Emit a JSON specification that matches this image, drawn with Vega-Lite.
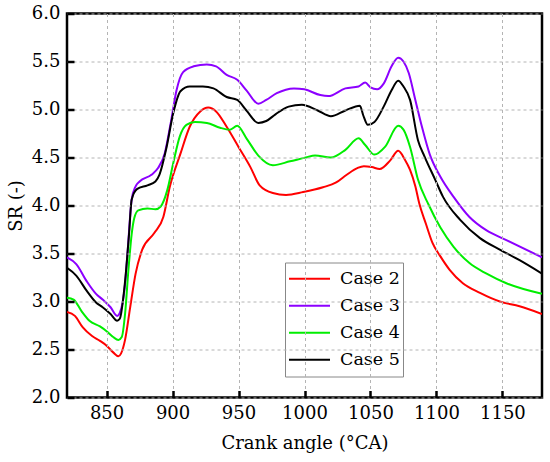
{
  "$schema": "https://vega.github.io/schema/vega-lite/v6.json",
  "width": 475,
  "height": 384,
  "autosize": {"type": "none"},
  "padding": {"left": 67, "top": 13.5, "right": 8, "bottom": 64.5},
  "background": "white",
  "datasets": {
    "sr": [
      {"case": "Case 2", "angle": 820, "sr": 2.89},
      {"case": "Case 2", "angle": 826, "sr": 2.85},
      {"case": "Case 2", "angle": 832, "sr": 2.73},
      {"case": "Case 2", "angle": 839, "sr": 2.64},
      {"case": "Case 2", "angle": 845, "sr": 2.59},
      {"case": "Case 2", "angle": 850, "sr": 2.54},
      {"case": "Case 2", "angle": 855, "sr": 2.47},
      {"case": "Case 2", "angle": 859, "sr": 2.43},
      {"case": "Case 2", "angle": 861, "sr": 2.46},
      {"case": "Case 2", "angle": 864, "sr": 2.6},
      {"case": "Case 2", "angle": 868, "sr": 2.95},
      {"case": "Case 2", "angle": 872, "sr": 3.29},
      {"case": "Case 2", "angle": 877, "sr": 3.54},
      {"case": "Case 2", "angle": 886, "sr": 3.71},
      {"case": "Case 2", "angle": 893, "sr": 3.88},
      {"case": "Case 2", "angle": 898, "sr": 4.2},
      {"case": "Case 2", "angle": 906, "sr": 4.54},
      {"case": "Case 2", "angle": 913, "sr": 4.82},
      {"case": "Case 2", "angle": 921, "sr": 4.98},
      {"case": "Case 2", "angle": 927, "sr": 5.02},
      {"case": "Case 2", "angle": 933, "sr": 4.98},
      {"case": "Case 2", "angle": 941, "sr": 4.82},
      {"case": "Case 2", "angle": 950, "sr": 4.61},
      {"case": "Case 2", "angle": 959, "sr": 4.4},
      {"case": "Case 2", "angle": 966, "sr": 4.21},
      {"case": "Case 2", "angle": 976, "sr": 4.13},
      {"case": "Case 2", "angle": 986, "sr": 4.11},
      {"case": "Case 2", "angle": 999, "sr": 4.14},
      {"case": "Case 2", "angle": 1014, "sr": 4.19},
      {"case": "Case 2", "angle": 1024, "sr": 4.24},
      {"case": "Case 2", "angle": 1032, "sr": 4.32},
      {"case": "Case 2", "angle": 1040, "sr": 4.39},
      {"case": "Case 2", "angle": 1045, "sr": 4.41},
      {"case": "Case 2", "angle": 1051, "sr": 4.4},
      {"case": "Case 2", "angle": 1057, "sr": 4.38},
      {"case": "Case 2", "angle": 1065, "sr": 4.47},
      {"case": "Case 2", "angle": 1071, "sr": 4.57},
      {"case": "Case 2", "angle": 1076, "sr": 4.48},
      {"case": "Case 2", "angle": 1080, "sr": 4.37},
      {"case": "Case 2", "angle": 1084, "sr": 4.2},
      {"case": "Case 2", "angle": 1087, "sr": 4.02},
      {"case": "Case 2", "angle": 1092, "sr": 3.81},
      {"case": "Case 2", "angle": 1097, "sr": 3.61},
      {"case": "Case 2", "angle": 1103, "sr": 3.47},
      {"case": "Case 2", "angle": 1110, "sr": 3.33},
      {"case": "Case 2", "angle": 1120, "sr": 3.19},
      {"case": "Case 2", "angle": 1133, "sr": 3.09},
      {"case": "Case 2", "angle": 1148, "sr": 3.0},
      {"case": "Case 2", "angle": 1163, "sr": 2.95},
      {"case": "Case 2", "angle": 1180, "sr": 2.87},

      {"case": "Case 3", "angle": 820, "sr": 3.46},
      {"case": "Case 3", "angle": 827, "sr": 3.39},
      {"case": "Case 3", "angle": 835, "sr": 3.21},
      {"case": "Case 3", "angle": 842, "sr": 3.08},
      {"case": "Case 3", "angle": 847, "sr": 3.02},
      {"case": "Case 3", "angle": 853, "sr": 2.94},
      {"case": "Case 3", "angle": 858, "sr": 2.85},
      {"case": "Case 3", "angle": 860, "sr": 2.88},
      {"case": "Case 3", "angle": 864, "sr": 3.18},
      {"case": "Case 3", "angle": 866, "sr": 3.53},
      {"case": "Case 3", "angle": 869, "sr": 4.06},
      {"case": "Case 3", "angle": 872, "sr": 4.2},
      {"case": "Case 3", "angle": 875, "sr": 4.25},
      {"case": "Case 3", "angle": 884, "sr": 4.32},
      {"case": "Case 3", "angle": 889, "sr": 4.39},
      {"case": "Case 3", "angle": 894, "sr": 4.54},
      {"case": "Case 3", "angle": 899, "sr": 4.89},
      {"case": "Case 3", "angle": 903, "sr": 5.2},
      {"case": "Case 3", "angle": 908, "sr": 5.39},
      {"case": "Case 3", "angle": 916, "sr": 5.45},
      {"case": "Case 3", "angle": 926, "sr": 5.47},
      {"case": "Case 3", "angle": 933, "sr": 5.45},
      {"case": "Case 3", "angle": 941, "sr": 5.36},
      {"case": "Case 3", "angle": 949, "sr": 5.31},
      {"case": "Case 3", "angle": 956, "sr": 5.2},
      {"case": "Case 3", "angle": 965, "sr": 5.06},
      {"case": "Case 3", "angle": 971, "sr": 5.1},
      {"case": "Case 3", "angle": 979, "sr": 5.17},
      {"case": "Case 3", "angle": 992, "sr": 5.22},
      {"case": "Case 3", "angle": 1000, "sr": 5.21},
      {"case": "Case 3", "angle": 1012, "sr": 5.15},
      {"case": "Case 3", "angle": 1018, "sr": 5.14},
      {"case": "Case 3", "angle": 1031, "sr": 5.22},
      {"case": "Case 3", "angle": 1041, "sr": 5.24},
      {"case": "Case 3", "angle": 1046, "sr": 5.28},
      {"case": "Case 3", "angle": 1050, "sr": 5.23},
      {"case": "Case 3", "angle": 1055, "sr": 5.21},
      {"case": "Case 3", "angle": 1060, "sr": 5.27},
      {"case": "Case 3", "angle": 1066, "sr": 5.45},
      {"case": "Case 3", "angle": 1071, "sr": 5.54},
      {"case": "Case 3", "angle": 1075, "sr": 5.5},
      {"case": "Case 3", "angle": 1079, "sr": 5.38},
      {"case": "Case 3", "angle": 1084, "sr": 5.1},
      {"case": "Case 3", "angle": 1089, "sr": 4.82},
      {"case": "Case 3", "angle": 1095, "sr": 4.53},
      {"case": "Case 3", "angle": 1103, "sr": 4.3},
      {"case": "Case 3", "angle": 1113, "sr": 4.09},
      {"case": "Case 3", "angle": 1125, "sr": 3.88},
      {"case": "Case 3", "angle": 1138, "sr": 3.74},
      {"case": "Case 3", "angle": 1153, "sr": 3.64},
      {"case": "Case 3", "angle": 1180, "sr": 3.46},

      {"case": "Case 4", "angle": 820, "sr": 3.04},
      {"case": "Case 4", "angle": 825, "sr": 3.02},
      {"case": "Case 4", "angle": 831, "sr": 2.9},
      {"case": "Case 4", "angle": 837, "sr": 2.8},
      {"case": "Case 4", "angle": 845, "sr": 2.74},
      {"case": "Case 4", "angle": 850, "sr": 2.69},
      {"case": "Case 4", "angle": 855, "sr": 2.63},
      {"case": "Case 4", "angle": 859, "sr": 2.6},
      {"case": "Case 4", "angle": 861.5, "sr": 2.63},
      {"case": "Case 4", "angle": 864, "sr": 2.87},
      {"case": "Case 4", "angle": 866.5, "sr": 3.32},
      {"case": "Case 4", "angle": 869, "sr": 3.7},
      {"case": "Case 4", "angle": 871, "sr": 3.87},
      {"case": "Case 4", "angle": 874, "sr": 3.95},
      {"case": "Case 4", "angle": 881, "sr": 3.97},
      {"case": "Case 4", "angle": 887, "sr": 3.96},
      {"case": "Case 4", "angle": 891, "sr": 3.99},
      {"case": "Case 4", "angle": 896, "sr": 4.16},
      {"case": "Case 4", "angle": 900.5, "sr": 4.44},
      {"case": "Case 4", "angle": 905.5, "sr": 4.72},
      {"case": "Case 4", "angle": 910.5, "sr": 4.84},
      {"case": "Case 4", "angle": 917, "sr": 4.87},
      {"case": "Case 4", "angle": 926, "sr": 4.86},
      {"case": "Case 4", "angle": 936, "sr": 4.81},
      {"case": "Case 4", "angle": 943.5, "sr": 4.79},
      {"case": "Case 4", "angle": 949, "sr": 4.83},
      {"case": "Case 4", "angle": 956, "sr": 4.7},
      {"case": "Case 4", "angle": 965, "sr": 4.52},
      {"case": "Case 4", "angle": 976, "sr": 4.42},
      {"case": "Case 4", "angle": 989, "sr": 4.46},
      {"case": "Case 4", "angle": 1001, "sr": 4.5},
      {"case": "Case 4", "angle": 1008, "sr": 4.52},
      {"case": "Case 4", "angle": 1020, "sr": 4.5},
      {"case": "Case 4", "angle": 1031, "sr": 4.58},
      {"case": "Case 4", "angle": 1041, "sr": 4.7},
      {"case": "Case 4", "angle": 1046, "sr": 4.63},
      {"case": "Case 4", "angle": 1053, "sr": 4.53},
      {"case": "Case 4", "angle": 1061, "sr": 4.61},
      {"case": "Case 4", "angle": 1071, "sr": 4.83},
      {"case": "Case 4", "angle": 1075, "sr": 4.79},
      {"case": "Case 4", "angle": 1080, "sr": 4.61},
      {"case": "Case 4", "angle": 1086, "sr": 4.27},
      {"case": "Case 4", "angle": 1094, "sr": 4.01},
      {"case": "Case 4", "angle": 1103, "sr": 3.77},
      {"case": "Case 4", "angle": 1113, "sr": 3.57},
      {"case": "Case 4", "angle": 1125, "sr": 3.4},
      {"case": "Case 4", "angle": 1138, "sr": 3.29},
      {"case": "Case 4", "angle": 1153, "sr": 3.19},
      {"case": "Case 4", "angle": 1180, "sr": 3.08},

      {"case": "Case 5", "angle": 820, "sr": 3.35},
      {"case": "Case 5", "angle": 827, "sr": 3.27},
      {"case": "Case 5", "angle": 835, "sr": 3.11},
      {"case": "Case 5", "angle": 842, "sr": 2.99},
      {"case": "Case 5", "angle": 847, "sr": 2.94},
      {"case": "Case 5", "angle": 853, "sr": 2.87},
      {"case": "Case 5", "angle": 858, "sr": 2.8},
      {"case": "Case 5", "angle": 860, "sr": 2.82},
      {"case": "Case 5", "angle": 864, "sr": 3.21},
      {"case": "Case 5", "angle": 867, "sr": 3.7},
      {"case": "Case 5", "angle": 869, "sr": 4.06},
      {"case": "Case 5", "angle": 873, "sr": 4.17},
      {"case": "Case 5", "angle": 881, "sr": 4.21},
      {"case": "Case 5", "angle": 887, "sr": 4.25},
      {"case": "Case 5", "angle": 890, "sr": 4.32},
      {"case": "Case 5", "angle": 895.5, "sr": 4.61},
      {"case": "Case 5", "angle": 900.5, "sr": 4.96},
      {"case": "Case 5", "angle": 906, "sr": 5.19},
      {"case": "Case 5", "angle": 913, "sr": 5.24},
      {"case": "Case 5", "angle": 923, "sr": 5.24},
      {"case": "Case 5", "angle": 931, "sr": 5.22},
      {"case": "Case 5", "angle": 941, "sr": 5.13},
      {"case": "Case 5", "angle": 949, "sr": 5.1},
      {"case": "Case 5", "angle": 956, "sr": 4.99},
      {"case": "Case 5", "angle": 965, "sr": 4.86},
      {"case": "Case 5", "angle": 971, "sr": 4.88},
      {"case": "Case 5", "angle": 978, "sr": 4.95},
      {"case": "Case 5", "angle": 988, "sr": 5.03},
      {"case": "Case 5", "angle": 998, "sr": 5.05},
      {"case": "Case 5", "angle": 1010, "sr": 4.99},
      {"case": "Case 5", "angle": 1020, "sr": 4.93},
      {"case": "Case 5", "angle": 1031, "sr": 4.99},
      {"case": "Case 5", "angle": 1042, "sr": 5.04},
      {"case": "Case 5", "angle": 1044.5, "sr": 4.94},
      {"case": "Case 5", "angle": 1048, "sr": 4.84},
      {"case": "Case 5", "angle": 1053, "sr": 4.87},
      {"case": "Case 5", "angle": 1060, "sr": 5.03},
      {"case": "Case 5", "angle": 1066, "sr": 5.2},
      {"case": "Case 5", "angle": 1071, "sr": 5.3},
      {"case": "Case 5", "angle": 1075, "sr": 5.24},
      {"case": "Case 5", "angle": 1080, "sr": 5.1},
      {"case": "Case 5", "angle": 1086, "sr": 4.68},
      {"case": "Case 5", "angle": 1091, "sr": 4.51},
      {"case": "Case 5", "angle": 1099, "sr": 4.27},
      {"case": "Case 5", "angle": 1105, "sr": 4.09},
      {"case": "Case 5", "angle": 1118, "sr": 3.85},
      {"case": "Case 5", "angle": 1133, "sr": 3.66},
      {"case": "Case 5", "angle": 1148, "sr": 3.54},
      {"case": "Case 5", "angle": 1163, "sr": 3.43},
      {"case": "Case 5", "angle": 1180, "sr": 3.29}
    ]
  },
  "data": {"name": "sr"},
  "mark": {"type": "line", "interpolate": "monotone", "strokeWidth": 2, "clip": true},
  "encoding": {
    "x": {
      "field": "angle",
      "type": "quantitative",
      "scale": {"domain": [820, 1180], "nice": false, "zero": false},
      "axis": {
        "title": "Crank angle (°CA)",
        "values": [850, 900, 950, 1000, 1050, 1100, 1150],
        "format": "d",
        "domain": false,
        "grid": true,
        "gridColor": "#b4b4b4",
        "gridDash": [3, 3],
        "ticks": true,
        "tickColor": "black",
        "tickWidth": 2.5,
        "tickSize": -7,
        "labelPadding": 14,
        "labelFont": "DejaVu Serif",
        "labelFontSize": 18,
        "labelColor": "black",
        "titleFont": "DejaVu Serif",
        "titleFontSize": 18,
        "titleFontWeight": "normal",
        "titleColor": "black",
        "titlePadding": 12,
        "zindex": 1
      }
    },
    "y": {
      "field": "sr",
      "type": "quantitative",
      "scale": {"domain": [2, 6], "nice": false, "zero": false},
      "axis": {
        "title": "SR (-)",
        "values": [2, 2.5, 3, 3.5, 4, 4.5, 5, 5.5, 6],
        "format": ".1f",
        "domain": false,
        "grid": true,
        "gridColor": "#b4b4b4",
        "gridDash": [3, 3],
        "ticks": true,
        "tickColor": "black",
        "tickWidth": 2.5,
        "tickSize": -7,
        "labelPadding": 14,
        "labelFont": "DejaVu Serif",
        "labelFontSize": 18,
        "labelColor": "black",
        "titleFont": "DejaVu Serif",
        "titleFontSize": 18,
        "titleFontWeight": "normal",
        "titleColor": "black",
        "titlePadding": 6,
        "zindex": 1
      }
    },
    "color": {
      "field": "case",
      "type": "nominal",
      "scale": {
        "domain": ["Case 2", "Case 3", "Case 4", "Case 5"],
        "range": ["#ff0000", "#8c00ff", "#00ee00", "#000000"]
      },
      "legend": {
        "title": null,
        "orient": "none",
        "legendX": 218,
        "legendY": 249,
        "symbolType": "stroke",
        "symbolSize": 1681,
        "symbolStrokeWidth": 2,
        "clipHeight": 26.5,
        "rowPadding": 0,
        "labelOffset": 9,
        "labelFont": "DejaVu Serif",
        "labelFontSize": 17.5,
        "labelColor": "black",
        "padding": 3,
        "strokeColor": "#888888",
        "fillColor": "white"
      }
    }
  },
  "config": {
    "font": "DejaVu Serif",
    "view": {"stroke": "black", "strokeWidth": 2.5}
  }
}
